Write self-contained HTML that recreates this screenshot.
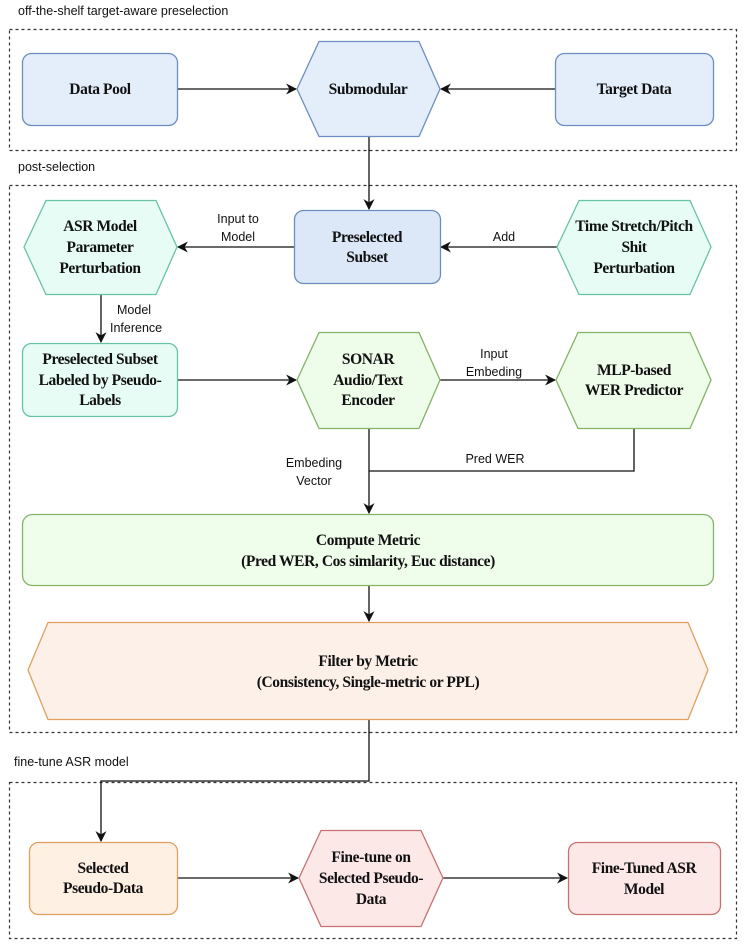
<!DOCTYPE html>
<html><head><meta charset="utf-8"><style>
body{margin:0;background:#fff}
svg{display:block}
.n{font-family:"Liberation Serif",serif;font-weight:bold;font-size:15.5px;fill:#111;text-anchor:middle;letter-spacing:-0.4px}
.l{font-family:"Liberation Sans",sans-serif;font-size:12.5px;fill:#111}
.c{text-anchor:middle}
.e{stroke:#111;stroke-width:1.3;fill:none}
</style></head><body>
<svg width="748" height="949" viewBox="0 0 748 949" xmlns="http://www.w3.org/2000/svg">
<defs><marker id="a" viewBox="0 0 10 10" refX="9" refY="5" markerWidth="11" markerHeight="11" orient="auto" markerUnits="userSpaceOnUse"><path d="M0,0 L10,5 L0,10 L3,5 Z" fill="#111"/></marker></defs>
<g fill="none" stroke="#333" stroke-dasharray="3,3" stroke-width="1.2">
<rect x="9.5" y="29.5" width="727" height="121"/>
<rect x="9.5" y="185.5" width="727" height="547"/>
<rect x="9.5" y="782.5" width="727" height="156"/>
</g>
<text class="l" x="18" y="15">off-the-shelf target-aware preselection</text>
<text class="l" x="18" y="171">post-selection</text>
<text class="l" x="14" y="766">fine-tune ASR model</text>

<path class="e" d="M178,89 H296" marker-end="url(#a)"/>
<path class="e" d="M555,89 H441" marker-end="url(#a)"/>
<path class="e" d="M369,137 V209" marker-end="url(#a)"/>
<path class="e" d="M294,247 H178" marker-end="url(#a)"/>
<path class="e" d="M557,247 H441" marker-end="url(#a)"/>
<path class="e" d="M101,295 V342" marker-end="url(#a)"/>
<path class="e" d="M178,380 H296" marker-end="url(#a)"/>
<path class="e" d="M440,380 H555" marker-end="url(#a)"/>
<path class="e" d="M369,428 V513" marker-end="url(#a)"/>
<path class="e" d="M634,428 V471 H369"/>
<path class="e" d="M369,585 V621" marker-end="url(#a)"/>
<path class="e" d="M369,719 V781 H101 V841" marker-end="url(#a)"/>
<path class="e" d="M177,878 H298" marker-end="url(#a)"/>
<path class="e" d="M443,878 H567" marker-end="url(#a)"/>

<g class="l">
<text class="c" x="238" y="223">Input to</text><text class="c" x="238" y="241">Model</text>
<text class="c" x="504" y="241">Add</text>
<text x="117" y="314">Model</text><text x="110" y="332">Inference</text>
<text class="c" x="494" y="358">Input</text><text class="c" x="494" y="376">Embeding</text>
<text class="c" x="495" y="463">Pred WER</text>
<text class="c" x="314" y="467">Embeding</text><text class="c" x="314" y="485">Vector</text>
</g>

<g stroke-linejoin="round" stroke-width="1.3">
<rect x="22.5" y="53.5" width="155" height="72" rx="9" fill="#e4eefb" stroke="#6c8ebf"/>
<polygon points="297,89 319,41.5 419,41.5 440,89 419,136.5 319,136.5" fill="#e4eefb" stroke="#6c8ebf"/>
<rect x="555.5" y="53.5" width="158" height="72" rx="9" fill="#e4eefb" stroke="#6c8ebf"/>
<polygon points="24,247 46,200.5 156,200.5 177,247 156,294.5 46,294.5" fill="#e6fcf4" stroke="#67c3a0"/>
<rect x="294.5" y="210.5" width="146" height="73" rx="9" fill="#dce8f8" stroke="#6c8ebf"/>
<polygon points="557,247 579,200.5 690,200.5 711,247 690,294.5 579,294.5" fill="#e6fcf4" stroke="#67c3a0"/>
<rect x="22.5" y="343.5" width="155" height="73" rx="9" fill="#e6fcf4" stroke="#67c3a0"/>
<polygon points="297,380 319,332.5 419,332.5 440,380 419,428.5 319,428.5" fill="#eefcea" stroke="#82b366"/>
<polygon points="556,380 578,332.5 690,332.5 711,380 690,428.5 578,428.5" fill="#eefcea" stroke="#82b366"/>
<rect x="22.5" y="514.5" width="691" height="71" rx="10" fill="#effdeb" stroke="#82b366"/>
<polygon points="28,670 48,622.5 688,622.5 708,670 688,719.5 48,719.5" fill="#fdf0e8" stroke="#e0a060"/>
<rect x="29.5" y="842.5" width="148" height="72" rx="9" fill="#fff0e4" stroke="#e0a060"/>
<polygon points="299,878 321,830.5 421,830.5 443,878 421,926.5 321,926.5" fill="#fde8e8" stroke="#c97070"/>
<rect x="568.5" y="842.5" width="152" height="72" rx="9" fill="#fde8e8" stroke="#c97070"/>
</g>

<g class="n">
<text x="100" y="94">Data Pool</text>
<text x="368" y="94">Submodular</text>
<text x="634" y="94">Target Data</text>
<text x="100" y="231">ASR Model</text><text x="100" y="252">Parameter</text><text x="100" y="273">Perturbation</text>
<text x="367" y="242">Preselected</text><text x="367" y="262">Subset</text>
<text x="634" y="231">Time Stretch/Pitch</text><text x="634" y="252">Shit</text><text x="634" y="273">Perturbation</text>
<text x="100" y="364">Preselected Subset</text><text x="100" y="385">Labeled by Pseudo-</text><text x="100" y="405">Labels</text>
<text x="368" y="364">SONAR</text><text x="368" y="385">Audio/Text</text><text x="368" y="405">Encoder</text>
<text x="634" y="375">MLP-based</text><text x="634" y="395">WER Predictor</text>
<text x="368" y="545">Compute Metric</text><text x="368" y="566">(Pred WER, Cos simlarity, Euc distance)</text>
<text x="368" y="666">Filter by Metric</text><text x="368" y="687">(Consistency, Single-metric or PPL)</text>
<text x="103" y="873">Selected</text><text x="103" y="893">Pseudo-Data</text>
<text x="371" y="862">Fine-tune on</text><text x="371" y="883">Selected Pseudo-</text><text x="371" y="904">Data</text>
<text x="644" y="873">Fine-Tuned ASR</text><text x="644" y="894">Model</text>
</g>
</svg>
</body></html>
